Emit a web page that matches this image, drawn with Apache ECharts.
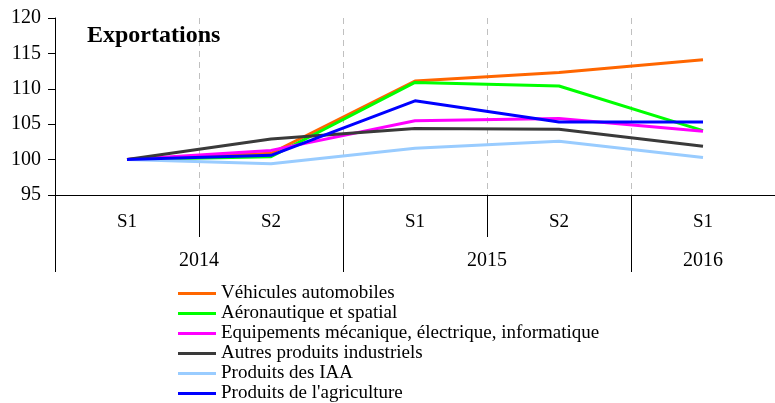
<!DOCTYPE html>
<html>
<head>
<meta charset="utf-8">
<script src="https://cdn.jsdelivr.net/npm/echarts@6/dist/echarts.min.js"></script>
<style>
  html, body { margin: 0; padding: 0; background: #fff; }
  #chart { width: 775px; height: 403px; }
</style>
</head>
<body>
<div id="chart"></div>
<script>
// semestres et années
var semestres = ['S1', 'S2', 'S1', 'S2', 'S1'];
var annees = ['2014', '2015', '2016'];
var semestresParAnnee = [2, 2, 1];
var yTicks = [95, 100, 105, 110, 115, 120];

// indices (base 100 au S1 2014)
var vehicules = [100, 100.9, 111.1, 112.3, 114.1];
var aeronautique = [100, 100.4, 110.9, 110.4, 104.1];
var equipements = [100, 101.3, 105.5, 105.8, 104.0];
var autresIndus = [100, 102.9, 104.4, 104.3, 101.9];
var iaa = [100, 99.4, 101.6, 102.6, 100.3];
var agriculture = [100, 100.6, 108.3, 105.3, 105.3];

var fontFam = '"Liberation Serif", "Times New Roman", serif';

// positions des années sur l'axe secondaire (0..5)
var bornes = [0];
var centres = [];
semestresParAnnee.forEach(function (n) {
  var debut = bornes[bornes.length - 1];
  centres.push(debut + n / 2);
  bornes.push(debut + n);
});

function serie(nom, data, couleur) {
  return {
    name: nom,
    type: 'line',
    data: data,
    symbol: 'none',
    xAxisIndex: 0,
    lineStyle: { color: couleur, width: 3 },
    itemStyle: { color: couleur }
  };
}

var chart = echarts.init(document.getElementById('chart'));
chart.setOption({
  animation: false,
  title: {
    text: 'Exportations',
    left: 82,
    top: 19,
    textStyle: { fontFamily: fontFam, fontWeight: 'bold', fontSize: 24, color: '#000' }
  },
  grid: { left: 55, right: -1, top: 18, bottom: 208, containLabel: false },
  legend: {
    orient: 'vertical',
    left: 178,
    top: 284,
    height: 125,
    padding: 0,
    itemWidth: 38,
    itemHeight: 3,
    itemGap: 1,
    icon: 'rect',
    textStyle: { fontFamily: fontFam, fontSize: 19, color: '#000', lineHeight: 19 }
  },
  xAxis: [{
    type: 'category',
    data: semestres,
    boundaryGap: true,
    axisLine: { lineStyle: { color: '#000', width: 1 } },
    axisTick: { show: true, interval: 0, length: 42, lineStyle: { color: '#000' } },
    axisLabel: { interval: 0, margin: 18, fontFamily: fontFam, fontSize: 19, color: '#000' },
    splitLine: { show: true, interval: 0, lineStyle: { color: '#c0c0c0', type: [6, 5], width: 1 } }
  }, {
    type: 'value',
    min: 0,
    max: 5,
    position: 'bottom',
    axisLine: { show: false },
    splitLine: { show: false },
    axisTick: { show: true, customValues: bornes.slice(0, bornes.length - 1), length: 77, lineStyle: { color: '#000' } },
    axisLabel: {
      customValues: centres,
      margin: 56,
      fontFamily: fontFam,
      fontSize: 20,
      color: '#000',
      formatter: function (v) {
        var i = centres.indexOf(v);
        return i >= 0 ? annees[i] : '';
      }
    }
  }],
  yAxis: {
    type: 'value',
    min: yTicks[0],
    max: yTicks[yTicks.length - 1],
    interval: 5,
    axisLine: { show: true, lineStyle: { color: '#000' } },
    axisTick: { show: true, length: 7, lineStyle: { color: '#000' } },
    splitLine: { show: false },
    axisLabel: { margin: 14, fontFamily: fontFam, fontSize: 20, color: '#000' }
  },
  series: [
    serie('Véhicules automobiles', vehicules, '#ff6600'),
    serie('Aéronautique et spatial', aeronautique, '#00ff00'),
    serie('Equipements mécanique, électrique, informatique', equipements, '#ff00ff'),
    serie('Autres produits industriels', autresIndus, '#3a3a3a'),
    serie('Produits des IAA', iaa, '#99ccff'),
    serie("Produits de l'agriculture", agriculture, '#0000ff')
  ]
});
</script>
</body>
</html>
